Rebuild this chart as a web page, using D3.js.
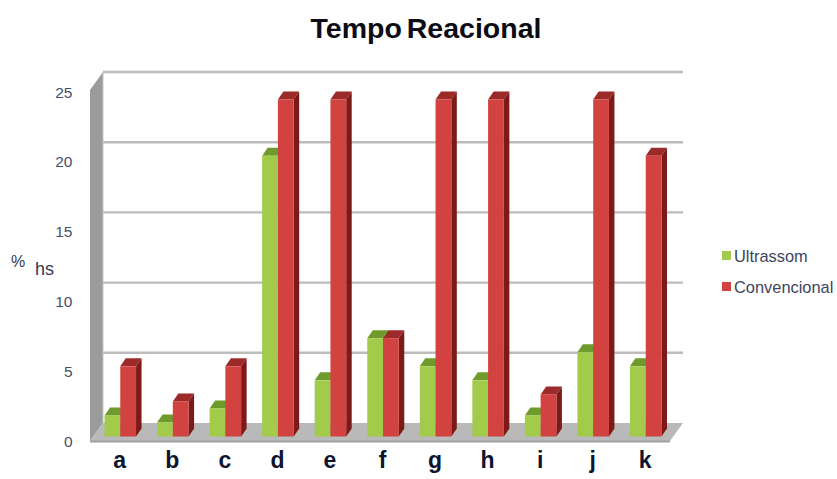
<!DOCTYPE html>
<html><head><meta charset="utf-8">
<script src="https://cdn.jsdelivr.net/npm/d3@7"></script>
<style>html,body{margin:0;background:#fff}svg{display:block;font-family:"Liberation Sans",Arial,sans-serif}</style>
</head><body><svg id="c" width="837" height="479"></svg>
<script>
const categories = ["a","b","c","d","e","f","g","h","i","j","k"];
const seriesNames = ["Ultrassom","Convencional"];
const ultrassom = [1.5,1,2,20,4,7,5,4,1.5,6,5];
const convencional = [5,2.5,5,24,24,7,24,24,3,24,20];
const yTicks = [0,5,10,15,20,25];
const chartTitle = "Tempo Reacional";

const svg = d3.select("#c");
const dx = 13, dy = 18;           // wall depth
const bdx = 5.5, bdy = 8;         // bar depth
const y = d3.scaleLinear().domain([0,25]).range([441,90]);      // front plane of the box
const yLabel = d3.scaleLinear().domain([0,25]).range([441,92]); // tick label centres
const x = d3.scaleBand().domain(categories).range([94,672]).paddingInner(0.4).paddingOuter(0.2);
const inner = d3.scaleBand().domain(seriesNames).range([0,x.bandwidth()]);
const base = 436.5;
const h = v => y(0)-y(v);
const pts = a => a.map(p=>p.join(",")).join(" ");
const x0=90, x1=670;

const g = svg.append("g").style("filter","blur(0.45px)");
// left wall
g.append("polygon").attr("points",pts([[x0,y(0)],[x0,y(25)],[x0+dx,y(25)-dy],[x0+dx,y(0)-dy]])).attr("fill","#9b9b9b");
// floor
g.append("polygon").attr("points",pts([[x0,y(0)],[x0+dx,y(0)-dy],[x1+dx,y(0)-dy],[x1,y(0)]])).attr("fill","#b9b9b9");
g.append("line").attr("x1",x0).attr("x2",x1).attr("y1",y(0)+.5).attr("y2",y(0)+.5).attr("stroke","#a0a0a0").attr("stroke-width",2);
// gridlines
g.selectAll(".grid").data(yTicks.filter(t=>t>0)).join("line")
 .attr("x1",x0+dx).attr("x2",x1+dx).attr("y1",d=>y(d)-dy).attr("y2",d=>y(d)-dy)
 .attr("stroke","#bcbcbc").attr("stroke-width",2.4);
g.append("line").attr("x1",x0+dx).attr("x2",x0+dx).attr("y1",y(25)-dy).attr("y2",y(0)-dy).attr("stroke","#c4c4c4").attr("stroke-width",1);

const colors = {Ultrassom:["#a2cb4c","#6f9a2c","#7fa836"],Convencional:["#d24240","#9c2a28","#7c1a18"]};
const rows = categories.map((c,i)=>({c,vals:[{s:"Ultrassom",v:ultrassom[i]},{s:"Convencional",v:convencional[i]}]}));
const grp = g.selectAll(".cat").data(rows).join("g").attr("transform",d=>`translate(${x(d.c)},0)`);
grp.each(function(d){
  const s = d3.select(this);
  d.vals.forEach(o=>{
    const l = inner(o.s), w = inner.bandwidth(), top = base-h(o.v), col = colors[o.s];
    s.append("polygon").attr("points",pts([[l,top],[l+bdx,top-bdy],[l+w+bdx,top-bdy],[l+w,top]])).attr("fill",col[1]);
    s.append("polygon").attr("points",pts([[l+w,top],[l+w+bdx,top-bdy],[l+w+bdx,base-bdy],[l+w,base]])).attr("fill",col[2]);
    s.append("rect").attr("x",l).attr("y",top).attr("width",w).attr("height",h(o.v)).attr("fill",col[0]);
  });
});

// axis labels
svg.selectAll(".yl").data(yTicks).join("text").attr("x",72.5).attr("y",d=>yLabel(d)+5.5)
 .attr("text-anchor","end").attr("font-size",15.5).attr("fill","#44506a").text(d=>d);
svg.selectAll(".xl").data(categories).join("text").attr("x",d=>x(d)+x.bandwidth()/2-0.5).attr("y",468)
 .attr("text-anchor","middle").attr("font-size",23).attr("font-weight","bold").attr("fill","#0c1430").text(d=>d);
svg.append("text").attr("x",426).attr("y",38).attr("text-anchor","middle").attr("font-size",28.5).attr("word-spacing",-3).attr("font-weight","bold").attr("fill","#0c0c14").text(chartTitle);
svg.append("text").attr("x",11).attr("y",267).attr("font-size",16).attr("fill","#333a50").text("%");
svg.append("text").attr("x",35).attr("y",275).attr("font-size",18).attr("fill","#333a50").text("hs");
// legend
const lg = svg.selectAll(".lg").data(seriesNames).join("g").attr("transform",(d,i)=>`translate(722,${256+i*31})`);
lg.append("rect").attr("y",-5).attr("width",9).attr("height",9).attr("fill",d=>colors[d][0]);
lg.append("text").attr("x",12).attr("y",6).attr("font-size",16.4).attr("fill","#3c4460").text(d=>d);
</script></body></html>
